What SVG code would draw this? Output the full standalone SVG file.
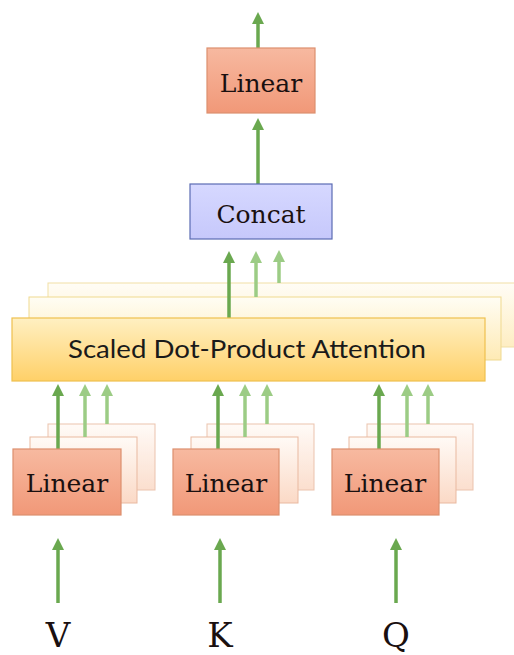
<svg xmlns="http://www.w3.org/2000/svg" width="514" height="655" viewBox="0 0 514 655">
  <style>
    .serif { font-family: "DejaVu Serif", "Liberation Serif", serif; fill: #1a1010; }
    .sans { font-family: Lato, "Open Sans", "Liberation Sans", sans-serif; fill: #1a1a1a; }
    .arrow { stroke: #6aa84f; stroke-width: 3.5; fill: none; marker-end: url(#head); }
    .arrow-light { stroke: #9ccc85; stroke-width: 3.5; fill: none; marker-end: url(#head-light); }
    .lin { fill: url(#linGrad); stroke: #dd8f6e; stroke-width: 1.2; }
    .lin-back { fill: url(#linBackGrad); stroke: #e9b9a0; stroke-width: 1; }
    .att { fill: url(#attGrad); stroke: #efc04f; stroke-width: 1.2; }
    .att-back { fill: url(#attBackGrad); stroke: #efd98f; stroke-width: 1; }
  </style>
  <defs>
    <linearGradient id="linGrad" x1="0" y1="0" x2="0" y2="1">
      <stop offset="0" stop-color="#f7b9a0"/>
      <stop offset="1" stop-color="#f19878"/>
    </linearGradient>
    <linearGradient id="linBackGrad" x1="0" y1="0" x2="0" y2="1">
      <stop offset="0" stop-color="#fffaf6"/>
      <stop offset="1" stop-color="#fbd9c6"/>
    </linearGradient>
    <linearGradient id="attGrad" x1="0" y1="0" x2="0" y2="1">
      <stop offset="0" stop-color="#fff0c2"/>
      <stop offset="1" stop-color="#ffd068"/>
    </linearGradient>
    <linearGradient id="attBackGrad" x1="0" y1="0" x2="0" y2="1">
      <stop offset="0" stop-color="#fffdf4"/>
      <stop offset="1" stop-color="#feeab4"/>
    </linearGradient>
    <linearGradient id="concatGrad" x1="0" y1="0" x2="0" y2="1">
      <stop offset="0" stop-color="#d6d8ff"/>
      <stop offset="1" stop-color="#c6c8fb"/>
    </linearGradient>
    <!-- arrowheads: apex sits 7px beyond the line end -->
    <marker id="head" markerUnits="userSpaceOnUse" markerWidth="12" markerHeight="12" refX="5" refY="6" orient="auto" viewBox="0 0 12 12">
      <path d="M0,0 L12,6 L0,12 Z" fill="#6aa84f"/>
    </marker>
    <marker id="head-light" markerUnits="userSpaceOnUse" markerWidth="12" markerHeight="12" refX="5" refY="6" orient="auto" viewBox="0 0 12 12">
      <path d="M0,0 L12,6 L0,12 Z" fill="#9ccc85"/>
    </marker>
  </defs>

  <!-- attention stack (back layers) -->
  <g id="attention-stack">
    <rect class="att-back" x="48" y="283" width="472" height="64" opacity="0.8"/>
    <rect class="att-back" x="29" y="297" width="472" height="63"/>
  </g>

  <!-- linear stacks (back layers) -->
  <g id="linear-v-stack">
    <rect class="lin-back" x="48" y="424" width="107" height="66" opacity="0.85"/>
    <rect class="lin-back" x="30" y="437" width="107" height="66"/>
  </g>
  <g id="linear-k-stack">
    <rect class="lin-back" x="207" y="424" width="107" height="66" opacity="0.85"/>
    <rect class="lin-back" x="191" y="437" width="107" height="66"/>
  </g>
  <g id="linear-q-stack">
    <rect class="lin-back" x="367" y="424" width="106" height="66" opacity="0.85"/>
    <rect class="lin-back" x="349" y="437" width="107" height="66"/>
  </g>

  <!-- connectors -->
  <g id="connectors">
    <!-- inputs -->
    <line class="arrow" x1="58" y1="603" x2="58" y2="545"/>
    <line class="arrow" x1="220" y1="603" x2="220" y2="545"/>
    <line class="arrow" x1="396" y1="603" x2="396" y2="545"/>
    <!-- linear heads into attention -->
    <line class="arrow-light" x1="107" y1="424" x2="107" y2="391"/>
    <line class="arrow-light" x1="85" y1="437" x2="85" y2="391"/>
    <line class="arrow" x1="58" y1="449" x2="58" y2="391"/>
    <line class="arrow-light" x1="267" y1="424" x2="267" y2="391"/>
    <line class="arrow-light" x1="245" y1="437" x2="245" y2="391"/>
    <line class="arrow" x1="218" y1="449" x2="218" y2="391"/>
    <line class="arrow-light" x1="428" y1="424" x2="428" y2="391"/>
    <line class="arrow-light" x1="407" y1="437" x2="407" y2="391"/>
    <line class="arrow" x1="379" y1="449" x2="379" y2="391"/>
    <!-- attention heads into concat -->
    <line class="arrow-light" x1="279" y1="283" x2="279" y2="257"/>
    <line class="arrow-light" x1="256" y1="297" x2="256" y2="258"/>
    <line class="arrow" x1="229" y1="318" x2="229" y2="258"/>
    <!-- concat to linear, linear to output -->
    <line class="arrow" x1="258" y1="184" x2="258" y2="125"/>
    <line class="arrow" x1="258" y1="48" x2="258" y2="19"/>
  </g>

  <!-- front nodes -->
  <g id="attention">
    <rect class="att" x="12" y="318" width="473" height="63"/>
    <text class="sans" x="247" y="358" font-size="25" text-anchor="middle" textLength="358" lengthAdjust="spacingAndGlyphs">Scaled Dot-Product Attention</text>
  </g>
  <g id="linear-v">
    <rect class="lin" x="13" y="449" width="108" height="66"/>
    <text class="serif" x="67" y="492" font-size="25" text-anchor="middle">Linear</text>
  </g>
  <g id="linear-k">
    <rect class="lin" x="173" y="449" width="106" height="66"/>
    <text class="serif" x="226" y="492" font-size="25" text-anchor="middle">Linear</text>
  </g>
  <g id="linear-q">
    <rect class="lin" x="332" y="449" width="107" height="66"/>
    <text class="serif" x="385" y="492" font-size="25" text-anchor="middle">Linear</text>
  </g>
  <g id="concat">
    <rect x="190" y="184" width="142" height="55" fill="url(#concatGrad)" stroke="#5b6cb3" stroke-width="1.2"/>
    <text class="serif" x="261" y="223" font-size="25" text-anchor="middle">Concat</text>
  </g>
  <g id="linear-out">
    <rect class="lin" x="207" y="48" width="108" height="65"/>
    <text class="serif" x="261" y="92" font-size="25" text-anchor="middle">Linear</text>
  </g>

  <!-- input labels -->
  <g id="input-v"><text class="serif" x="58" y="647" font-size="34" text-anchor="middle">V</text></g>
  <g id="input-k"><text class="serif" x="220" y="647" font-size="34" text-anchor="middle">K</text></g>
  <g id="input-q"><text class="serif" x="396" y="647" font-size="34" text-anchor="middle">Q</text></g>
</svg>
